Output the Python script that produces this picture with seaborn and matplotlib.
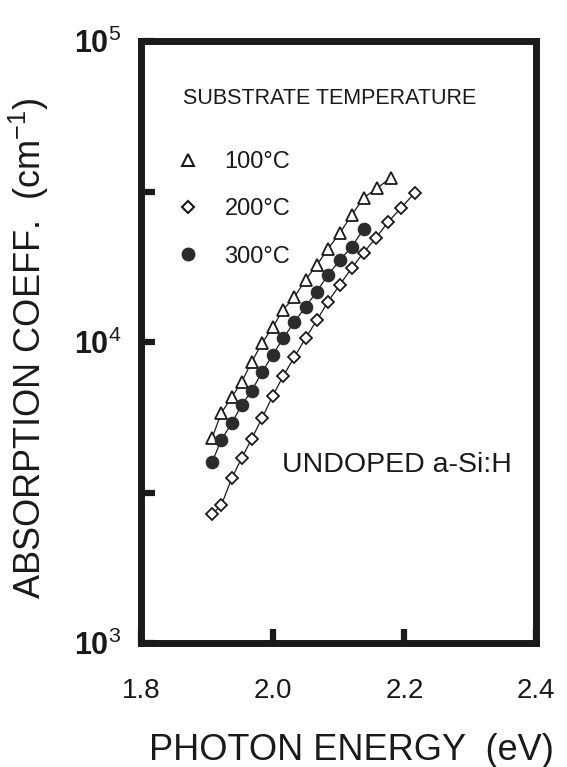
import matplotlib
matplotlib.use("Agg")
import matplotlib.pyplot as plt
from matplotlib.lines import Line2D
from matplotlib.ticker import FixedLocator, NullFormatter, FixedFormatter
import seaborn as sns
import pandas as pd

# ---- data ----
e_100 = [1.908, 1.922, 1.938, 1.953, 1.968, 1.984, 2.000, 2.016, 2.033, 2.050,
         2.067, 2.084, 2.102, 2.120, 2.138, 2.159, 2.179]
a_100 = [4800, 5810, 6570, 7370, 8580, 9920, 11200, 12800, 14100, 16100,
         18000, 20400, 23000, 26400, 30100, 32500, 35100]

e_200 = [1.908, 1.922, 1.938, 1.953, 1.968, 1.984, 2.000, 2.016, 2.033, 2.050,
         2.067, 2.084, 2.102, 2.120, 2.138, 2.157, 2.175, 2.195, 2.216]
a_200 = [2680, 2870, 3530, 4120, 4760, 5590, 6620, 7710, 8920, 10300,
         11800, 13600, 15500, 17600, 19800, 22200, 25000, 27900, 31300]

e_300 = [1.908, 1.922, 1.938, 1.953, 1.968, 1.984, 2.000, 2.016, 2.033, 2.050,
         2.067, 2.084, 2.102, 2.120, 2.138]
a_300 = [3990, 4730, 5380, 6180, 6880, 7950, 9060, 10300, 11650, 13100,
         14700, 16700, 18700, 20700, 23700]

series_labels = ["100°C", "200°C", "300°C"]
x_ticks = [1.8, 2.0, 2.2, 2.4]
x_ticklabels = ["1.8", "2.0", "2.2", "2.4"]
y_ticks = [1e3, 1e4, 1e5]
y_ticklabels = [r"$\mathbf{10}^{3}$", r"$\mathbf{10}^{4}$", r"$\mathbf{10}^{5}$"]
y_minor = [3162, 31623]

df100 = pd.DataFrame({"E": e_100, "alpha": a_100})
df200 = pd.DataFrame({"E": e_200, "alpha": a_200})
df300 = pd.DataFrame({"E": e_300, "alpha": a_300})

# ---- style ----
sns.set_theme(style="white")
plt.rcParams["font.family"] = ["Liberation Sans", "DejaVu Sans"]
plt.rcParams["mathtext.fontset"] = "custom"
plt.rcParams["mathtext.rm"] = "Liberation Sans"
plt.rcParams["mathtext.bf"] = "Liberation Sans:bold"
plt.rcParams["mathtext.it"] = "Liberation Sans:italic"

fig = plt.figure(figsize=(5.67, 7.67), dpi=100)
ax = fig.add_axes([0.2487, 0.1617, 0.6966, 0.7848])
ax.set_yscale("log")

ink = "#1a1a1a"
sns.lineplot(data=df100, x="E", y="alpha", ax=ax, color=ink, linewidth=0.9,
             marker="^", markersize=9, markerfacecolor="white",
             markeredgecolor=ink, markeredgewidth=1.3, zorder=3)
sns.lineplot(data=df200, x="E", y="alpha", ax=ax, color=ink, linewidth=0.9,
             marker="D", markersize=5.8, markerfacecolor="white",
             markeredgecolor=ink, markeredgewidth=1.3, zorder=3)
sns.lineplot(data=df300, x="E", y="alpha", ax=ax, color=ink, linewidth=0.9,
             marker="o", markersize=9, markerfacecolor="#2b2b2b",
             markeredgecolor="#2b2b2b", markeredgewidth=0.8, zorder=4)

ax.set_xlim(1.8, 2.4)
ax.set_ylim(1e3, 1e5)

ax.xaxis.set_major_locator(FixedLocator(x_ticks))
ax.xaxis.set_major_formatter(FixedFormatter(x_ticklabels))
ax.yaxis.set_major_locator(FixedLocator(y_ticks))
ax.yaxis.set_major_formatter(FixedFormatter(y_ticklabels))
ax.yaxis.set_minor_locator(FixedLocator(y_minor))
ax.yaxis.set_minor_formatter(NullFormatter())
ax.xaxis.set_minor_locator(FixedLocator([]))

ax.tick_params(axis="both", which="both", direction="in", color=ink,
               length=10, width=4.5, top=False, right=False,
               bottom=True, left=True)
ax.tick_params(axis="x", which="major", labelsize=20, pad=25, labelcolor=ink)
ax.tick_params(axis="y", which="major", labelsize=22, pad=14, labelcolor=ink)

for sp in ax.spines.values():
    sp.set_visible(True)
    sp.set_color(ink)
    sp.set_linewidth(5)

ax.set_xlabel("PHOTON ENERGY  (eV)", fontsize=26, color=ink)
ax.xaxis.set_label_coords(0.534, -0.15)
ax.set_ylabel(r"ABSORPTION COEFF.  (cm$^{-1}$)", fontsize=26, color=ink)
ax.yaxis.set_label_coords(-0.228, 0.49)

ax.text(0.106, 0.905, "SUBSTRATE TEMPERATURE", transform=ax.transAxes,
        fontsize=15.5, color=ink, ha="left", va="center")
ax.text(0.357, 0.296, "UNDOPED a-Si:H", transform=ax.transAxes,
        fontsize=20.5, color=ink, ha="left", va="center")

handles = [
    Line2D([], [], linestyle="none", marker="^", markersize=9,
           markerfacecolor="white", markeredgecolor=ink, markeredgewidth=1.5),
    Line2D([], [], linestyle="none", marker="D", markersize=5.8,
           markerfacecolor="white", markeredgecolor=ink, markeredgewidth=1.5),
    Line2D([], [], linestyle="none", marker="o", markersize=9,
           markerfacecolor="#2b2b2b", markeredgecolor="#2b2b2b"),
]
leg = ax.legend(handles, series_labels, loc="upper left",
                bbox_to_anchor=(0.0886, 0.817), frameon=False, fontsize=17,
                borderpad=0, borderaxespad=0, handlelength=1.0,
                handletextpad=1.05, labelspacing=1.07)
for t in leg.get_texts():
    t.set_color(ink)

fig.savefig("out.png", dpi=100, facecolor="white")
